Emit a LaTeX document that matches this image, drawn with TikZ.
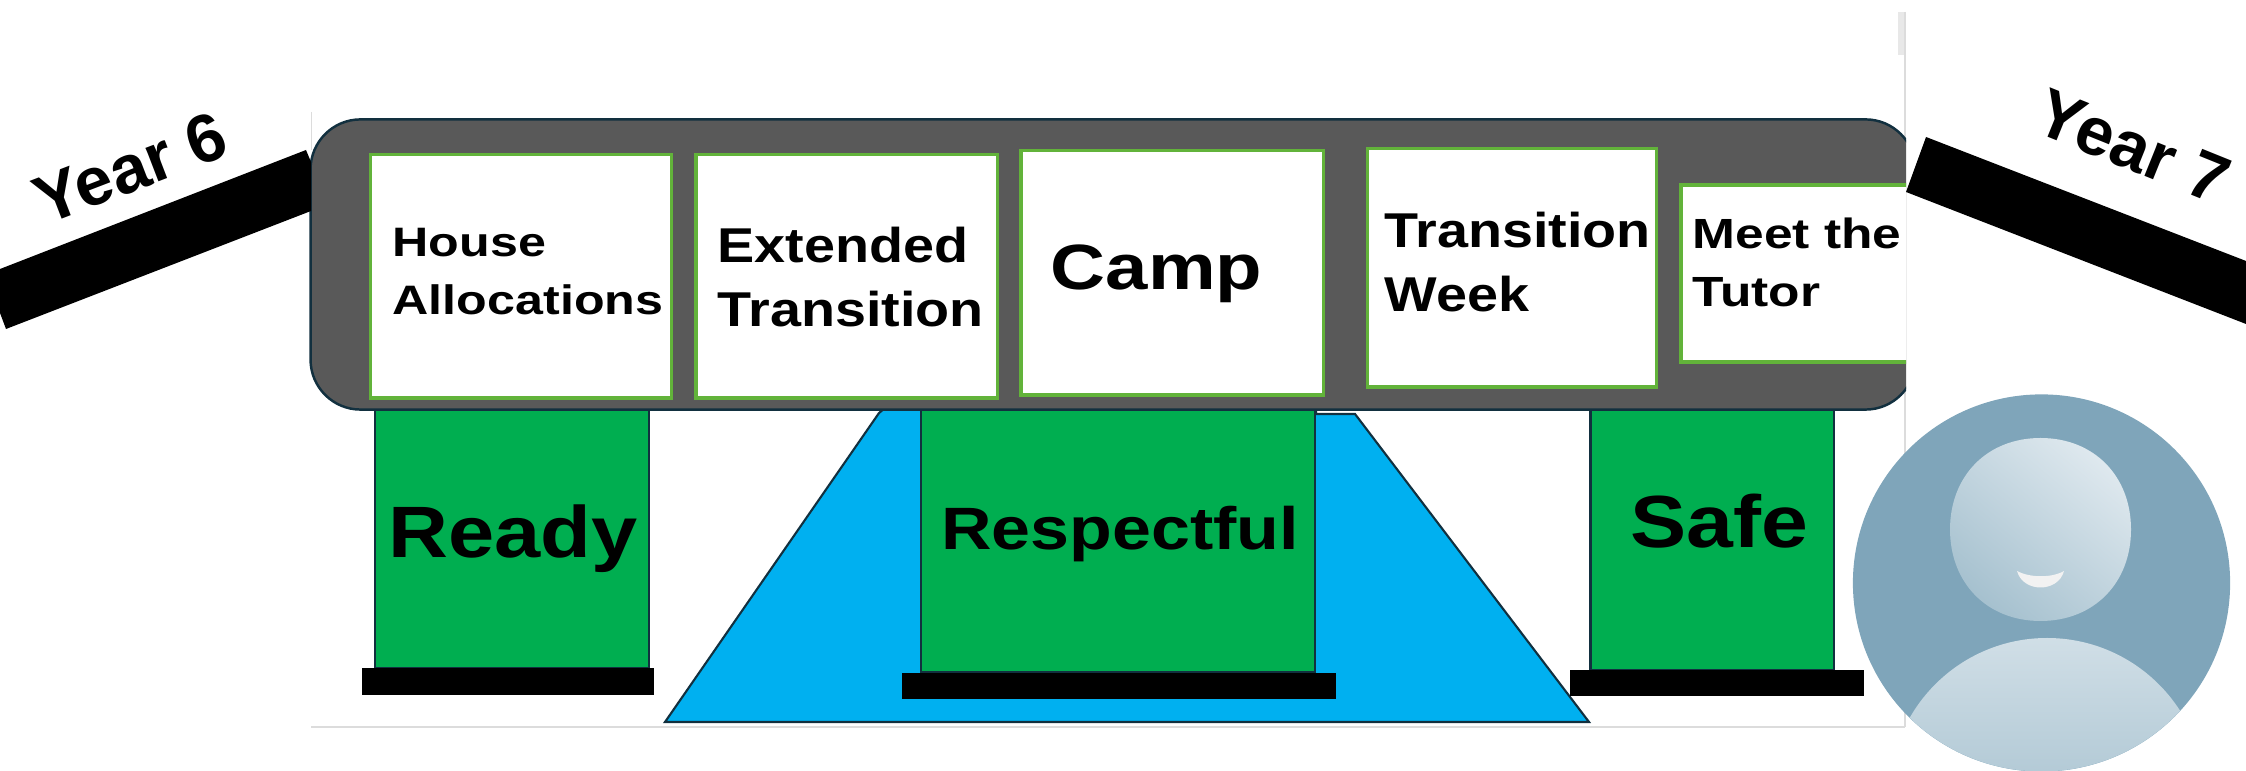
\documentclass[tikz,border=0pt]{standalone}
\usepackage{fontspec}
\usepackage{xcolor}
\usepackage{tikz}
\usetikzlibrary{shapes.geometric}

\setmainfont{Liberation Sans}
\newfontfamily\widerface[FakeStretch=1.22]{Liberation Sans}
\newfontfamily\wideface[FakeStretch=1.14]{Liberation Sans}
\newfontfamily\midface[FakeStretch=1.17]{Liberation Sans}
\newfontfamily\campface[FakeStretch=1.19]{Liberation Sans}

\definecolor{barGrey}{HTML}{595959}
\definecolor{edgeNavy}{HTML}{12303F}
\definecolor{boxGreen}{HTML}{62B33A}
\definecolor{pillarGreen}{HTML}{00AE50}
\definecolor{rockBlue}{HTML}{00B0F0}
\definecolor{avatarBlue}{HTML}{7FA5BA}
\definecolor{avatarPale}{HTML}{DEE8EE}
\definecolor{avatarMid}{HTML}{A6C1CF}
\definecolor{pageGrey}{HTML}{DCDCDC}

\tikzset{
	topicbox/.style={draw=boxGreen, line width=0.9pt, fill=white, inner sep=0pt},
	pillarbox/.style={draw=edgeNavy, line width=0.6pt, fill=pillarGreen, inner sep=0pt},
	footbox/.style={fill=black, inner sep=0pt},
	textlabel/.style={inner sep=0pt, align=left, anchor=west},
	pillarlabel/.style={inner sep=0pt, anchor=base},
	yearlabel/.style={inner sep=0pt, font=\bfseries\fontsize{19.3pt}{22pt}\selectfont}
}

\begin{document}
\begin{tikzpicture}[x=0.01cm, y=-0.01cm]
		\useasboundingbox (0,0) rectangle (2246,771);

		% Page edges
		\fill[gray!18] (1898,12) rectangle (1906,55);
		\draw[pageGrey, line width=0.4pt] (1905,12) -- (1905,727);
		\draw[pageGrey, line width=0.7pt] (311,727) -- (1905,727);
		\draw[pageGrey, line width=0.2pt] (311,112) -- (311,150);

		% Blue trapezoid
		\draw[draw=edgeNavy, line width=0.6pt, fill=rockBlue] (665,722) -- (879,413) -- (885,408) -- (1316,408) -- (1316,414) -- (1355,414) -- (1589,722) -- cycle;

		% Pillars
		\node[pillarbox, minimum width=2.745cm, minimum height=2.60cm] (ready_pillar) at (512,538) {};
		\node[pillarbox, minimum width=3.945cm, minimum height=2.63cm] (respectful_pillar) at (1118,540) {};
		\node[pillarbox, minimum width=2.43cm, minimum height=2.61cm] (safe_pillar) at (1712,539) {};

		% Feet of the pillars
		\node[footbox, minimum width=2.92cm, minimum height=0.27cm] (ready_foot) at (508,681.5) {};
		\node[footbox, minimum width=4.34cm, minimum height=0.26cm] (respectful_foot) at (1119,686) {};
		\node[footbox, minimum width=2.93cm, minimum height=0.26cm] (safe_foot) at (1717,683) {};

		\node[pillarlabel, font=\wideface\bfseries\fontsize{20.7pt}{24pt}\selectfont] (ready_text) at (513,558) {Ready};
		\node[pillarlabel, font=\midface\bfseries\fontsize{17pt}{20pt}\selectfont] (respectful_text) at (1120,550) {Respectful};
		\node[pillarlabel, font=\wideface\bfseries\fontsize{21pt}{24pt}\selectfont] (safe_text) at (1719,548) {Safe};

		% Grey bar with its boxes, cut off at the page edge
		\begin{scope}
			\clip (0,0) rectangle (1906,771);
			\node[draw=edgeNavy, line width=0.7pt, fill=barGrey, rounded corners=0.5cm, inner sep=0pt, minimum width=16.04cm, minimum height=2.90cm] (top_bar) at (1113,264.5) {};

			\node[topicbox, minimum width=3.01cm, minimum height=2.43cm] (house_box) at (521,276.5) {};
			\node[topicbox, minimum width=3.01cm, minimum height=2.43cm] (extended_box) at (846.5,276.5) {};
			\node[topicbox, minimum width=3.02cm, minimum height=2.44cm] (camp_box) at (1172,273) {};
			\node[topicbox, minimum width=2.89cm, minimum height=2.38cm] (week_box) at (1512,268) {};
			\node[topicbox, minimum width=2.45cm, minimum height=1.77cm] (tutor_box) at (1803.5,273.5) {};
		\end{scope}

		% Box texts
		\node[textlabel, font=\widerface\bfseries\fontsize{11.7pt}{16.5pt}\selectfont] (house_text) at (392,272) {House\\Allocations};
		\node[textlabel, font=\wideface\bfseries\fontsize{13.9pt}{18.4pt}\selectfont] (extended_text) at (717,277) {Extended\\Transition};
		\node[textlabel, anchor=base west, font=\campface\bfseries\fontsize{18.2pt}{22pt}\selectfont] (camp_text) at (1050,290) {Camp};
		\node[textlabel, font=\wideface\bfseries\fontsize{13.9pt}{18pt}\selectfont] (week_text) at (1384,262) {Transition\\Week};
		\node[textlabel, font=\widerface\bfseries\fontsize{12pt}{16.5pt}\selectfont] (tutor_text) at (1692,262) {Meet the\\Tutor};

		% Year bands
		\fill[black] (0,269) -- (306,150) -- (311,162) -- (311,211) -- (6,329) -- (0,313) -- cycle;
		\fill[black] (1926,137) -- (2246,261) -- (2246,324) -- (1906,192) -- cycle;
		\node[yearlabel, rotate=21] (year_six) at (130,168) {Year 6};
		\node[yearlabel, rotate=-22] (year_seven) at (2133,147) {Year 7};

		% Avatar
		\node[circle, fill=avatarBlue, inner sep=0pt, minimum size=3.77cm] (avatar) at (2041.5,583) {};
		\begin{scope}
			\clip (2041.5,583) circle (188.5);
			\clip (2047,796) circle (158);
			\shade[top color=avatarPale, bottom color=avatarMid] (1850,572) rectangle (2240,837);
		\end{scope}
		\shade[top color=avatarPale, bottom color=avatarMid, shading angle=-40] (2040.5,438) .. controls (2094,438) and (2131,476) .. (2131,529.5) .. controls (2131,583) and (2094,621) .. (2040.5,621) .. controls (1987,621) and (1950,583) .. (1950,529.5) .. controls (1950,476) and (1987,438) .. (2040.5,438) -- cycle;
		\fill[white!90!gray] (2017,571) .. controls (2030,578) and (2052,578) .. (2064,571) .. controls (2058,593) and (2023,593) .. (2017,571) -- cycle;
	\end{tikzpicture}
\end{document}
